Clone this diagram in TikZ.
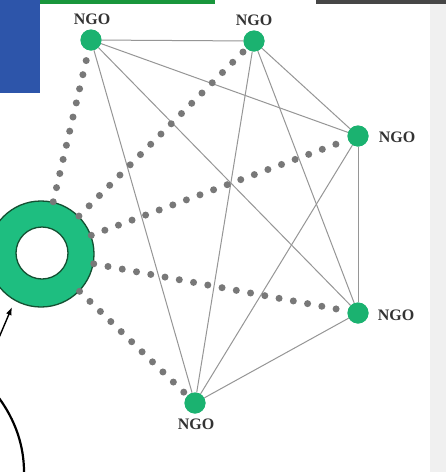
\documentclass[tikz,border=0pt]{standalone}
\usepackage{fontspec}
\setmainfont{Liberation Serif}
\usetikzlibrary{arrows.meta}
\definecolor{ngogreen}{RGB}{27,178,112}
\definecolor{ringgreen}{RGB}{30,190,128}
\definecolor{ringedge}{RGB}{20,80,50}
\definecolor{dotgray}{RGB}{120,120,120}
\definecolor{linegray}{RGB}{150,150,150}
\definecolor{boxblue}{RGB}{45,85,170}
\definecolor{bargreen}{RGB}{25,150,60}
\definecolor{bargray}{RGB}{70,70,70}
\definecolor{stripgray}{RGB}{240,240,240}
\tikzset{
  ngo/.style={circle, fill=ngogreen, minimum size=21pt, inner sep=0pt},
  ngolabel/.style={font=\bfseries\fontsize{16}{16}\selectfont, text=black!80, inner sep=0pt},
  link/.style={draw=linegray, line width=1pt},
  dotlink/.style={draw=dotgray, line width=7pt, line cap=round, dash pattern=on 0pt off 14.5pt},
}
\begin{document}
\begin{tikzpicture}[x=1pt,y=-1pt]
\useasboundingbox (0,0) rectangle (446,472);
\fill[white] (0,0) rectangle (446,472);
\fill[stripgray] (430,0) rectangle (446,472);
\fill[bargreen] (40,0) rectangle (215,3.5);
\fill[bargray] (316,0) rectangle (446,3.5);
\fill[boxblue] (0,0) rectangle (40,93);

% NGO nodes
\node[ngo] (nA) at (91,40) {};
\node[ngo] (nB) at (254,41) {};
\node[ngo] (nC) at (358,136) {};
\node[ngo] (nD) at (358,313) {};
\node[ngo] (nE) at (195,403) {};

\node[ngolabel] (lA) at (92,19) {NGO};
\node[ngolabel] (lB) at (254,20) {NGO};
\node[ngolabel] (lC) at (397,137) {NGO};
\node[ngolabel] (lD) at (396,315) {NGO};
\node[ngolabel] (lE) at (196,424) {NGO};

% ring
\node[circle, fill=ringgreen, draw=ringedge, line width=1.3pt, minimum size=106pt, inner sep=0pt] (ring) at (41,254) {};
\node[circle, fill=white, draw=ringedge, line width=1.3pt, minimum size=52pt, inner sep=0pt] (hole) at (42,253) {};

% solid links (complete graph)
\draw[link] (nA) -- (nB);
\draw[link] (nA) -- (nC);
\draw[link] (nA) -- (nD);
\draw[link] (nA) -- (nE);
\draw[link] (nB) -- (nC);
\draw[link] (nB) -- (nD);
\draw[link] (nB) -- (nE);
\draw[link] (nC) -- (nD);
\draw[link] (nC) -- (nE);
\draw[link] (nD) -- (nE);

% dotted links from ring
\draw[dotlink] (ring) -- (nA);
\draw[dotlink] (ring) -- (nB);
\draw[dotlink] (ring) -- (nC);
\draw[dotlink] (ring) -- (nD);
\draw[dotlink] (ring) -- (nE);

% redraw NGO dots on top
\foreach \n in {nA,nB,nC,nD,nE} {\fill[ngogreen] (\n) circle (10.5pt);}

% arrow at bottom left
\coordinate (arrowtail) at (-2,340);
\coordinate (arrowtip) at (12,307);
\draw[line width=1.4pt, -{Latex[length=8pt,width=6pt]}] (arrowtail) -- (arrowtip);

% black curve
\coordinate (cs) at (-1,398);
\coordinate (ce) at (24,472);
\draw[line width=2.2pt] (cs) .. controls (15,420) and (24,445) .. (ce);
\end{tikzpicture}
\end{document}
